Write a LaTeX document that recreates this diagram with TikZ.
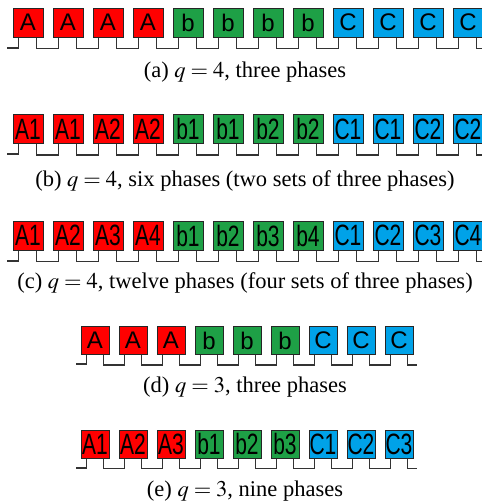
\documentclass[tikz,border=0pt]{standalone}
\usepackage{mathptmx}
\usepackage[no-math]{fontspec}
\setmainfont{Liberation Serif}
\newfontfamily\labfont{Liberation Sans}
\usetikzlibrary{calc}
\definecolor{phA}{RGB}{255,0,0}
\definecolor{phB}{RGB}{30,160,70}
\definecolor{phC}{RGB}{0,162,232}
\newcommand{\stretchlab}[1]{\scalebox{1}[1.4]{#1}}
\begin{document}
\begin{tikzpicture}[x=0.5pt,y=-0.5pt,
 coil/.style={draw=black!85,line width=0.5pt,minimum width=15pt,minimum height=14.5pt,inner sep=0pt,font=\labfont\fontsize{10.5}{11}\selectfont},
 coilsm/.style={coil,minimum width=14pt,minimum height=14pt},
 biglab/.style={font=\labfont\fontsize{12}{12}\selectfont},
 wire/.style={draw=black!80,line width=0.6pt},
 captext/.style={font=\fontsize{11.25}{13}\selectfont,anchor=base}]
\useasboundingbox (0,0) rectangle (482,504);
% (a) q=4, three phases
\foreach \lab/\col [count=\i] in {A/phA,A/phA,A/phA,A/phA,b/phB,b/phB,b/phB,b/phB,C/phC,C/phC,C/phC,C/phC}
  \node[coil,biglab,fill=\col] (a\i) at ({28+40*(\i-1)},22.5) {\lab};
\coordinate (a0) at (7,48);
\coordinate (aend) at ($(a12.south east)+(2,11)$);
\draw[wire] (a0) -| ([xshift=3pt]a1.south west);
\foreach \i [evaluate=\i as \j using int(\i+1)] in {1,...,11}
  \draw[wire] ([xshift=-3.5pt]a\i.south east) -- ++(0,11) -| ([xshift=3pt]a\j.south west);
\draw[wire] ([xshift=-3.5pt]a12.south east) |- (aend);
\node[captext] (capa) at (245,77) {(a) $q=4$, three phases};
% (b) q=4, six phases
\foreach \lab/\col [count=\i] in {A1/phA,A1/phA,A2/phA,A2/phA,b1/phB,b1/phB,b2/phB,b2/phB,C1/phC,C1/phC,C2/phC,C2/phC}
  \node[coil,fill=\col] (b\i) at ({28+40*(\i-1)},129) {\stretchlab{\lab}};
\coordinate (b0) at (7,154);
\coordinate (bend) at ($(b12.south east)+(2,11)$);
\draw[wire] (b0) -| ([xshift=3pt]b1.south west);
\foreach \i [evaluate=\i as \j using int(\i+1)] in {1,...,11}
  \draw[wire] ([xshift=-3.5pt]b\i.south east) -- ++(0,11) -| ([xshift=3pt]b\j.south west);
\draw[wire] ([xshift=-3.5pt]b12.south east) |- (bend);
\node[captext] (capb) at (245,186) {(b) $q=4$, six phases (two sets of three phases)};
% (c) q=4, twelve phases
\foreach \lab/\col [count=\i] in {A1/phA,A2/phA,A3/phA,A4/phA,b1/phB,b2/phB,b3/phB,b4/phB,C1/phC,C2/phC,C3/phC,C4/phC}
  \node[coil,fill=\col] (c\i) at ({28+40*(\i-1)},235.5) {\stretchlab{\lab}};
\coordinate (c0) at (7,261);
\coordinate (cend) at ($(c12.south east)+(2,11)$);
\draw[wire] (c0) -| ([xshift=3pt]c1.south west);
\foreach \i [evaluate=\i as \j using int(\i+1)] in {1,...,11}
  \draw[wire] ([xshift=-3.5pt]c\i.south east) -- ++(0,11) -| ([xshift=3pt]c\j.south west);
\draw[wire] ([xshift=-3.5pt]c12.south east) |- (cend);
\node[captext] (capc) at (245,288) {(c) $q=4$, twelve phases (four sets of three phases)};
% (d) q=3, three phases
\foreach \lab/\col [count=\i] in {A/phA,A/phA,A/phA,b/phB,b/phB,b/phB,C/phC,C/phC,C/phC}
  \node[coilsm,biglab,fill=\col] (d\i) at ({95+38*(\i-1)},340.5) {\lab};
\coordinate (d0) at (76,364);
\coordinate (dend) at ($(d9.south east)+(3,10)$);
\draw[wire] (d0) -| ([xshift=3pt]d1.south west);
\foreach \i [evaluate=\i as \j using int(\i+1)] in {1,...,8}
  \draw[wire] ([xshift=-3pt]d\i.south east) -- ++(0,10) -| ([xshift=3pt]d\j.south west);
\draw[wire] ([xshift=-3pt]d9.south east) |- (dend);
\node[captext] (capd) at (245,392) {(d) $q=3$, three phases};
% (e) q=3, nine phases
\foreach \lab/\col [count=\i] in {A1/phA,A2/phA,A3/phA,b1/phB,b2/phB,b3/phB,C1/phC,C2/phC,C3/phC}
  \node[coilsm,fill=\col] (e\i) at ({95+38*(\i-1)},444) {\stretchlab{\lab}};
\coordinate (e0) at (76,468);
\coordinate (eend) at ($(e9.south east)+(3,10)$);
\draw[wire] (e0) -| ([xshift=3pt]e1.south west);
\foreach \i [evaluate=\i as \j using int(\i+1)] in {1,...,8}
  \draw[wire] ([xshift=-3pt]e\i.south east) -- ++(0,10) -| ([xshift=3pt]e\j.south west);
\draw[wire] ([xshift=-3pt]e9.south east) |- (eend);
\node[captext] (cape) at (245,496) {(e) $q=3$, nine phases};
\end{tikzpicture}
\end{document}
